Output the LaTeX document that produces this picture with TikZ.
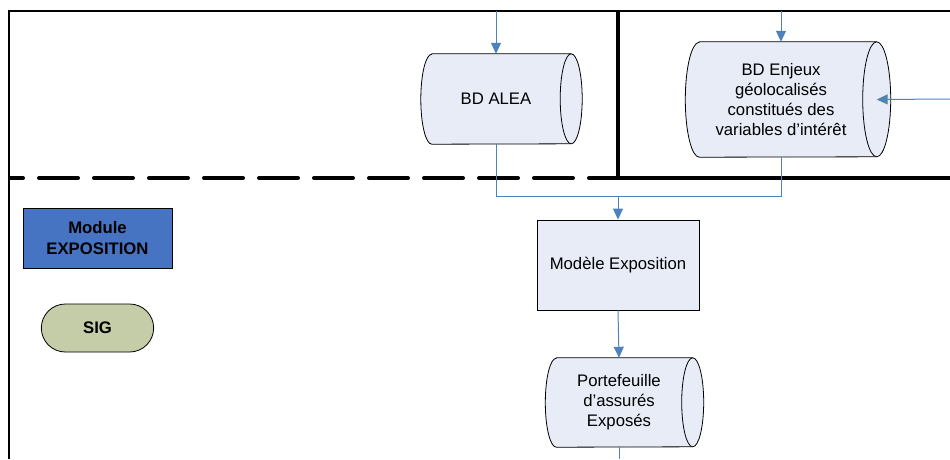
\documentclass[tikz,border=0pt]{standalone}
\usepackage{fontspec}
\setmainfont{Liberation Sans}
\usepackage{tikz}
\usetikzlibrary{arrows.meta,shapes.misc,backgrounds}
\definecolor{flowblue}{RGB}{79,129,189}
\definecolor{boxfill}{RGB}{231,236,247}
\definecolor{modblue}{RGB}{70,116,194}
\definecolor{sigfill}{RGB}{196,205,168}
% name, x, y, width, height, end radius, text
\newcommand{\database}[7]{%
  \node[dbtext, minimum width=#4, minimum height=#5] (#1) at (#2,#3) {#7};
  \begin{scope}[on background layer]
    \draw[dbline] ([xshift=#6]#1.north west) -- (#1.north east)
        arc[start angle=90, end angle=-90, x radius=#6, y radius=0.5*#5]
        -- ([xshift=#6]#1.south west)
        arc[start angle=270, end angle=90, x radius=#6, y radius=0.5*#5] -- cycle;
    \draw[dbline] (#1.north east) arc[start angle=90, end angle=270, x radius=#6, y radius=0.5*#5];
  \end{scope}}

\begin{document}
\begin{tikzpicture}[
  x=1pt, y=-1pt, >={Triangle[length=11pt,width=10pt]},
  font=\fontsize{16.7}{20}\selectfont,
  flow/.style={->, draw=flowblue, line width=1pt},
  link/.style={draw=flowblue, line width=1pt},
  dbtext/.style={rectangle, align=center, inner sep=0pt},
  dbline/.style={draw, line width=0.8pt, fill=boxfill},
  proc/.style={rectangle, draw, line width=0.8pt, fill=boxfill, align=center},
  legend/.style={draw, line width=0.8pt, align=center, font=\fontsize{16.7}{21}\selectfont\bfseries},
  lane/.style={line width=2pt},
  sep/.style={line width=4pt}
]
  \useasboundingbox (0,0) rectangle (950,459);
  % lanes
  \draw[lane] (8,11) -- (950,11);
  \draw[lane] (9,11) -- (9,459);
  \draw[sep] (618,11) -- (618,178);
  \draw[sep, line cap=round, dash pattern=on 39pt off 16pt, dash phase=26pt] (10,178) -- (618,178);
  \draw[sep] (618,178) -- (950,178);
  % data bases
  \database{alea}{496}{99}{150pt}{90pt}{11pt}{BD ALEA}
  \database{enjeux}{781}{99.5}{191pt}{115pt}{14pt}
       {BD Enjeux\\ géolocalisés\\ constitués des\\ variables d’intérêt}
  \node[proc, minimum width=162pt, minimum height=90pt] (modele) at (618,265) {Modèle Exposition};
  \database{porte}{619}{402.5}{147pt}{89pt}{11pt}
       {Portefeuille\\ d’assurés\\ Exposés}
  % legend
  \node[legend, rectangle, fill=modblue, minimum width=149pt, minimum height=60pt] (module) at (97.5,238)
       {Module\\ EXPOSITION};
  \node[legend, rounded rectangle, fill=sigfill, minimum width=119pt, minimum height=48pt] (sig) at (97.5,328) {SIG};
  % flows
  \coordinate (ina) at (alea.north |- 0,11);
  \coordinate (inb) at (enjeux.north |- 0,11);
  \coordinate (inc) at (950,99);
  \coordinate (join) at (modele.north |- 0,196);
  \coordinate (out) at (porte.south |- 0,459);
  \draw[flow] (ina) -- (alea.north);
  \draw[flow] (inb) -- (enjeux.north);
  \draw[flow] (inc) -- (enjeux.east);
  \draw[flow] (alea.south) |- (join) -- (modele.north);
  \draw[link] (enjeux.south) |- (join);
  \draw[flow] (modele.south) -- (porte.north);
  \draw[link] (porte.south) -- (out);
\end{tikzpicture}
\end{document}
